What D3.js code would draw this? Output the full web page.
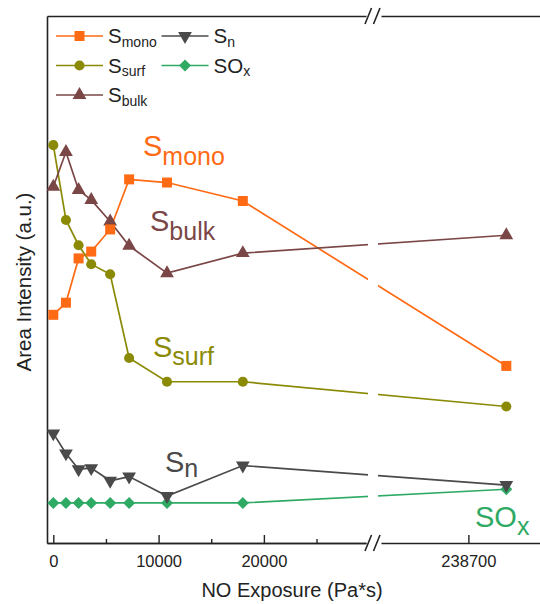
<!DOCTYPE html>
<html>
<head>
<meta charset="utf-8">
<script src="https://cdn.jsdelivr.net/npm/d3@7"></script>
<style>
  body { margin: 0; background: #fff; }
  svg { display: block; font-family: "Liberation Sans", Arial, sans-serif; }
</style>
</head>
<body>
<svg id="chart" width="540" height="604"></svg>
<script>
// NO exposure (Pa*s) - last point sits after the axis break
const exposure = [0, 1200, 2400, 3600, 5400, 7200, 10800, 18000, 242300];

// area intensities (a.u.)
const sMono = [43.3, 45.6, 54.0, 55.3, 59.5, 69.0, 68.4, 64.9, 33.6];
const sSurf = [75.5, 61.3, 56.5, 52.9, 51.0, 35.1, 30.6, 30.6, 25.9];
const sBulk = [67.6, 74.2, 67.0, 65.1, 61.0, 56.4, 51.2, 55.0, 58.4];
const sN    = [20.8, 17.0, 14.0, 14.2, 11.8, 12.6, 8.9, 14.7, 11.0];
const sOx   = [7.6, 7.6, 7.6, 7.6, 7.6, 7.6, 7.6, 7.6, 10.2];

const majorTicks1 = [0, 10000, 20000];
const minorTicks1 = [5000, 15000, 25000];
const majorTicks2 = [238700];

const svg = d3.select("#chart");

const plotL = 47, plotT = 16, plotB = 543, plotR = 540;
const breakL = 366, breakR = 381;

let x1 = d3.scaleLinear().domain([-600, 29700]).range([plotL, breakL]);
let x2 = d3.scaleLinear().domain([230400, 245500]).range([breakR, plotR]);
let y = d3.scaleLinear().domain([0, 100]).range([plotB, plotT]);

const xPos = v => v < 100000 ? x1(v) : x2(v);

const series = [
    { name: "mono", values: sMono, color: "#ff6a14", shape: "square" },
    { name: "surf", values: sSurf, color: "#8a8a05", shape: "circle" },
    { name: "bulk", values: sBulk, color: "#7a4646", shape: "triangle" },
    { name: "n",    values: sN,    color: "#4a4a4a", shape: "down" },
    { name: "x",    values: sOx,   color: "#2eaa64", shape: "diamond" }
];

function markerPath(shape) {
    if (shape == "square") return d3.symbol(d3.symbolSquare, 100)();
    if (shape == "circle") return d3.symbol(d3.symbolCircle, 80)();
    if (shape == "diamond") return d3.symbol(d3.symbolSquare, 72)();
    return d3.symbol(d3.symbolTriangle, 82)();
}
function markerRot(shape) {
    if (shape == "down") return 180;
    if (shape == "diamond") return 45;
    return 0;
}

// clip lines so they break where the axis breaks
svg.append("clipPath").attr("id", "gap")
    .selectAll("rect")
    .data([[0, 368], [378, 540]])
    .enter().append("rect")
    .attr("x", d => d[0]).attr("y", 0)
    .attr("width", d => d[1] - d[0]).attr("height", 604);

// axes
const fmt = d3.format("d");
svg.append("g").attr("transform", `translate(0,${plotB})`)
    .call(d3.axisBottom(x1).tickValues(majorTicks1).tickSize(-8).tickSizeOuter(0).tickPadding(12).tickFormat(fmt));
svg.append("g").attr("transform", `translate(0,${plotB})`)
    .call(d3.axisBottom(x1).tickValues(minorTicks1).tickSize(-4).tickSizeOuter(0).tickFormat(""));
svg.append("g").attr("transform", `translate(0,${plotB})`)
    .call(d3.axisBottom(x2).tickValues(majorTicks2).tickSize(-8).tickSizeOuter(0).tickPadding(12).tickFormat(fmt));
svg.append("g").attr("transform", `translate(0,${plotT})`)
    .call(d3.axisTop(x1).tickValues([]).tickSizeOuter(0));
svg.append("g").attr("transform", `translate(0,${plotT})`)
    .call(d3.axisTop(x2).tickValues([]).tickSizeOuter(0));
svg.append("g").attr("transform", `translate(${plotL},0)`)
    .call(d3.axisLeft(y).tickValues([]).tickSizeOuter(0));

svg.selectAll(".domain").attr("stroke", "#222").attr("stroke-width", 1.6);
svg.selectAll(".tick line").attr("stroke", "#222").attr("stroke-width", 1.4);
svg.selectAll(".tick text").attr("font-size", 16.5).attr("fill", "#222")
    .attr("font-family", "Liberation Sans, Arial, sans-serif");

// break marks
[plotT, plotB].forEach(yy => {
    [365, 373.5].forEach(bx => {
        svg.append("line")
            .attr("x1", bx).attr("y1", yy + 8)
            .attr("x2", bx + 6.5).attr("y2", yy - 8)
            .attr("stroke", "#222").attr("stroke-width", 1.6);
    });
});

// lines + markers
let line = d3.line().x((d, i) => xPos(exposure[i])).y(d => y(d));

series.forEach(s => {
    svg.append("path")
        .attr("d", line(s.values))
        .attr("fill", "none")
        .attr("stroke", s.color)
        .attr("stroke-width", 1.7)
        .attr("clip-path", "url(#gap)");
});
series.slice().reverse().forEach(s => {
    svg.append("g").selectAll("path")
        .data(s.values)
        .enter().append("path")
        .attr("d", markerPath(s.shape))
        .attr("transform", (d, i) => `translate(${xPos(exposure[i])},${y(d)}) rotate(${markerRot(s.shape)})`)
        .attr("fill", s.color);
});

// in-plot labels
const labels = [
    { main: "S", sub: "mono", x: 143, y: 156, dy: 9, color: "#ff6a14" },
    { main: "S", sub: "bulk", x: 150, y: 231, dy: 9, color: "#7a4646" },
    { main: "S", sub: "surf", x: 153, y: 357, dy: 8, color: "#8a8a05" },
    { main: "S", sub: "n",    x: 165, y: 472, dy: 5, color: "#4a4a4a" },
    { main: "SO", sub: "x",   x: 475, y: 527, dy: 8, color: "#2eaa64" }
];
labels.forEach(l => {
    let t = svg.append("text").attr("x", l.x).attr("y", l.y).attr("fill", l.color);
    t.append("tspan").attr("font-size", 29).text(l.main);
    t.append("tspan").attr("font-size", 25).attr("dy", l.dy).text(l.sub);
});

// legend
const legend = [
    { s: 0, main: "S", sub: "mono", x: 56, y: 36 },
    { s: 3, main: "S", sub: "n", x: 161.5, y: 36 },
    { s: 1, main: "S", sub: "surf", x: 56, y: 65.5 },
    { s: 4, main: "SO", sub: "x", x: 161.5, y: 65.5 },
    { s: 2, main: "S", sub: "bulk", x: 56, y: 95 }
];
legend.forEach(l => {
    let s = series[l.s];
    let g = svg.append("g");
    g.append("line").attr("x1", l.x).attr("x2", l.x + 47)
        .attr("y1", l.y).attr("y2", l.y)
        .attr("stroke", s.color).attr("stroke-width", 1.7);
    g.append("path").attr("d", markerPath(s.shape))
        .attr("transform", `translate(${l.x + 23.5},${l.y}) rotate(${markerRot(s.shape)})`)
        .attr("fill", s.color);
    let t = g.append("text").attr("x", l.x + 52).attr("y", l.y + 7.3).attr("fill", "#222");
    t.append("tspan").attr("font-size", 20.5).text(l.main);
    t.append("tspan").attr("font-size", 14).attr("dy", 3.5).text(l.sub);
});

// axis titles
svg.append("text")
    .attr("x", 292).attr("y", 597)
    .attr("text-anchor", "middle")
    .attr("font-size", 20).attr("fill", "#222")
    .text("NO Exposure (Pa*s)");
svg.append("text")
    .attr("transform", "translate(31,282) rotate(-90)")
    .attr("text-anchor", "middle")
    .attr("font-size", 20.5).attr("fill", "#222")
    .text("Area Intensity (a.u.)");
</script>
</body>
</html>
